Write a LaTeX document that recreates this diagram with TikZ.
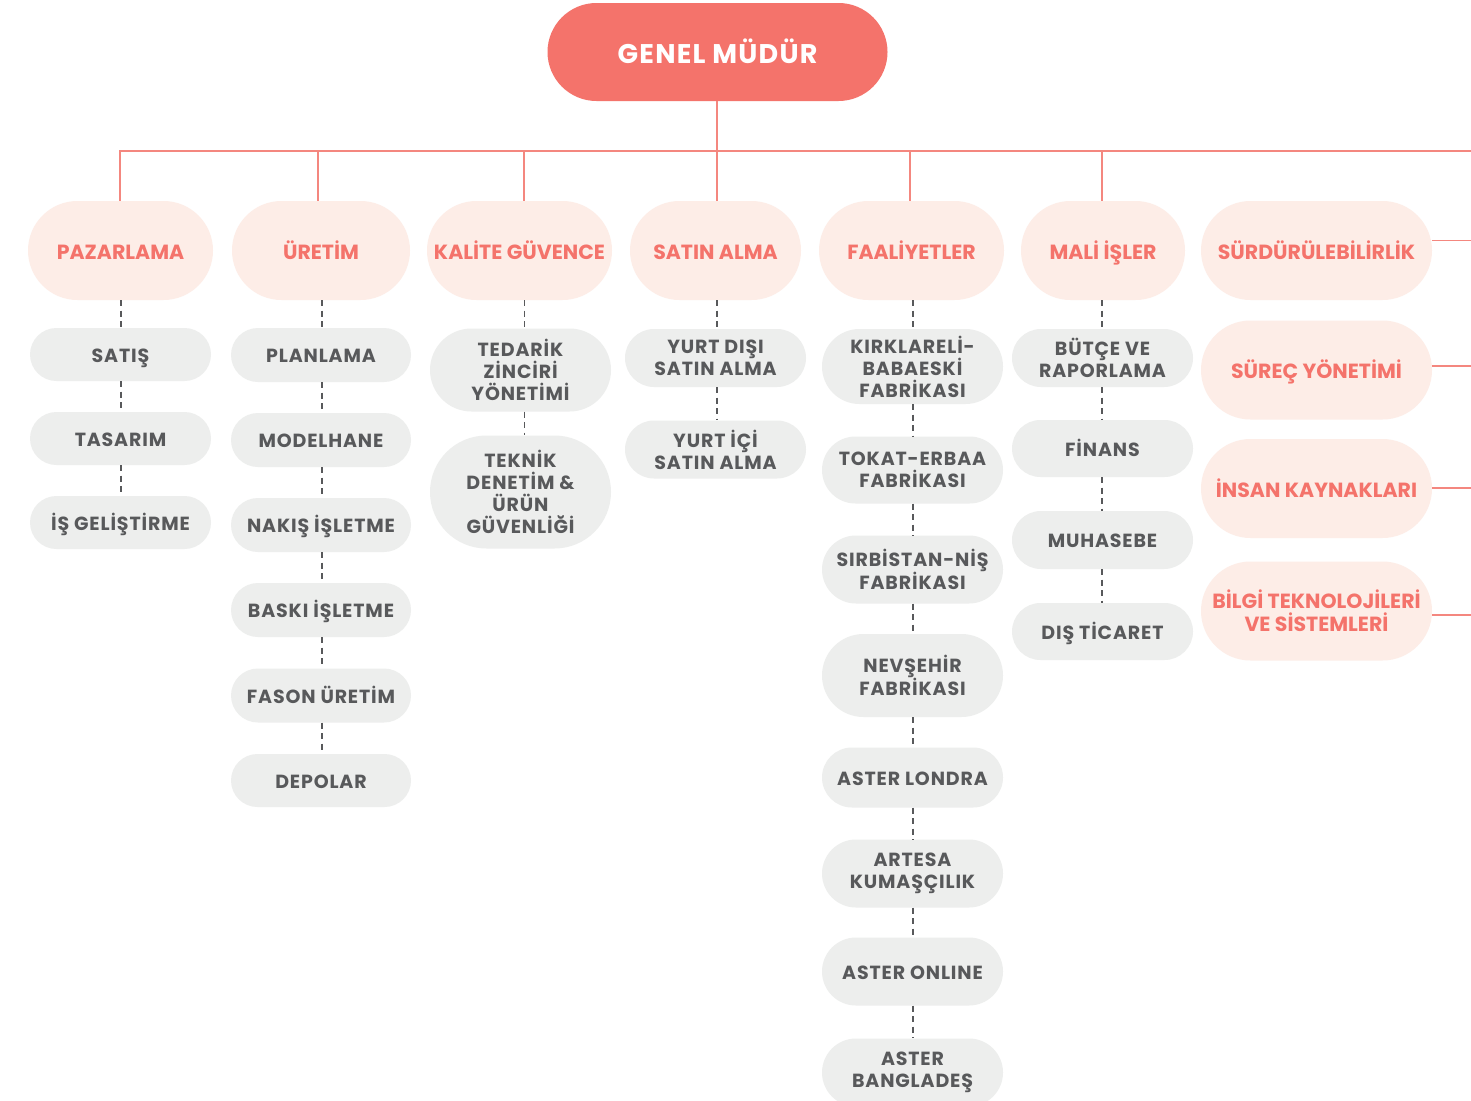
\documentclass[tikz,border=0pt]{standalone}
\usepackage{fontspec}
\setmainfont{Poppins}
\newfontfamily\grayfont{Poppins}[LetterSpace=4.5]
\newfontfamily\topfont{Poppins}[LetterSpace=4.5]
\definecolor{salmon}{HTML}{F4736B}
\definecolor{salmonline}{HTML}{F4877F}
\definecolor{pinkfill}{HTML}{FDEDE7}
\definecolor{grayfill}{HTML}{EDEEED}
\definecolor{graytext}{HTML}{58595B}
\definecolor{dashgray}{HTML}{58595B}
\begin{document}
\begin{tikzpicture}[x=1pt,y=-1pt,
 base/.style={rectangle, inner sep=0pt, align=center},
 topbox/.style={base, fill=salmon, text=white, font=\topfont\fontsize{27}{30}\selectfont\bfseries, minimum width=340, minimum height=98, rounded corners=49, text height=22pt, text depth=0pt},
 pbox/.style 2 args={base, fill=pinkfill, text=salmon, font=\fontsize{20.5}{23}\selectfont\bfseries, minimum width=#1, minimum height=#2, rounded corners=#2/2},
 gbox/.style 2 args={base, fill=grayfill, text=graytext, font=\grayfont\fontsize{19}{22}\selectfont\bfseries, minimum width=#1, minimum height=#2, rounded corners=#2/2},
 pone/.style={text height=17.5pt, text depth=0pt},
 gone/.style={text height=15.5pt, text depth=0pt},
 redline/.style={draw=salmonline, line width=1.8pt},
 dashline/.style={draw=dashgray, line width=1.6pt, dash pattern=on 6pt off 4.5pt},
]
\fill[white] (0,0) rectangle (1471,1100);
\useasboundingbox (0,0) rectangle (1471,1100);

% top
\node[topbox] (gm) at (717.5,52) {GENEL MÜDÜR};

% level 1
\node[pbox={185}{99}, pone] (paz) at (120.5,250.5) {PAZARLAMA};
\node[pbox={178}{99}, pone] (ure) at (321,250.5) {ÜRETİM};
\node[pbox={185}{99}, pone] (kal) at (519.5,250.5) {KALİTE GÜVENCE};
\node[pbox={171}{99}, pone] (sat) at (715.5,250.5) {SATIN ALMA};
\node[pbox={185}{99}, pone] (faa) at (911.5,250.5) {FAALİYETLER};
\node[pbox={164}{99}, pone] (mal) at (1103,250.5) {MALİ İŞLER};
\node[pbox={231}{99}, pone] (sur) at (1316.5,250.5) {SÜRDÜRÜLEBİLİRLİK};
\node[pbox={231}{99}, pone] (sy) at (1316.5,370) {SÜREÇ YÖNETİMİ};
\node[pbox={231}{99}, pone] (ik) at (1316.5,488.5) {İNSAN KAYNAKLARI};
\node[pbox={231}{99}] (bt) at (1316.5,611) {BİLGİ TEKNOLOJİLERİ\\VE SİSTEMLERİ};

% column 1
\node[gbox={181}{53}, gone] (satis) at (120.5,354.5) {SATIŞ};
\node[gbox={181}{53}, gone] (tasarim) at (120.5,438.5) {TASARIM};
\node[gbox={181}{53}, gone] (isgel) at (120.5,522.5) {İŞ GELİŞTİRME};

% column 2
\node[gbox={180}{54}, gone] (planlama) at (321,355) {PLANLAMA};
\node[gbox={180}{54}, gone] (modelhane) at (321,440) {MODELHANE};
\node[gbox={180}{54}, gone] (nakis) at (321,525) {NAKIŞ İŞLETME};
\node[gbox={180}{54}, gone] (baski) at (321,610) {BASKI İŞLETME};
\node[gbox={180}{54}, gone] (fason) at (321,695.5) {FASON ÜRETİM};
\node[gbox={180}{53}, gone] (depolar) at (321,780.5) {DEPOLAR};

% column 3
\node[gbox={181}{83}] (tedarik) at (520.5,370) {TEDARİK\\ZİNCİRİ\\YÖNETİMİ};
\node[gbox={181}{113}] (teknik) at (520.5,492) {TEKNİK\\DENETİM \&\\ÜRÜN\\GÜVENLİĞİ};

% column 4
\node[gbox={181}{58}] (ydisi) at (715.5,358) {YURT DIŞI\\SATIN ALMA};
\node[gbox={181}{58}] (yici) at (715.5,449.5) {YURT İÇİ\\SATIN ALMA};

% column 5
\node[gbox={181}{75}] (kirk) at (912.5,366.5) {KIRKLARELİ-\\BABAESKİ\\FABRİKASI};
\node[gbox={181}{67}] (tokat) at (912.5,470) {TOKAT-ERBAA\\FABRİKASI};
\node[gbox={181}{68}] (sirb) at (912.5,569.5) {SIRBİSTAN-NİŞ\\FABRİKASI};
\node[gbox={181}{83}] (nevs) at (912.5,675.5) {NEVŞEHİR\\FABRİKASI};
\node[gbox={181}{60}, gone] (londra) at (912.5,777.5) {ASTER LONDRA};
\node[gbox={181}{68}] (artesa) at (912.5,873.5) {ARTESA\\KUMAŞÇILIK};
\node[gbox={181}{68}, gone] (online) at (912.5,971.5) {ASTER ONLINE};
\node[gbox={181}{68}] (bangla) at (912.5,1072.5) {ASTER\\BANGLADEŞ};

% column 6
\node[gbox={181}{58}] (butce) at (1102.5,358) {BÜTÇE VE\\RAPORLAMA};
\node[gbox={181}{57}, gone] (finans) at (1102.5,448.5) {FİNANS};
\node[gbox={181}{58}, gone] (muhasebe) at (1102.5,540) {MUHASEBE};
\node[gbox={181}{57}, gone] (dis) at (1102.5,631.5) {DIŞ TİCARET};

% red connectors
\coordinate (busR) at (1471,151);
\coordinate (tpgm) at (717,151);
\coordinate (tppaz) at (120,151);
\coordinate (tpure) at (318,151);
\coordinate (tpkal) at (524,151);
\coordinate (tpsat) at (717,151);
\coordinate (tpfaa) at (910,151);
\coordinate (tpmal) at (1102,151);
\draw[redline] (tpgm |- gm.south) -- (tpgm);
\draw[redline] (tppaz |- paz.north) -- (tppaz) -- (busR);
\foreach \n in {ure,kal,sat,faa,mal}
  \draw[redline] (tp\n) -- (tp\n |- \n.north);

\coordinate (r1) at (1471,240.5);
\coordinate (r2) at (1471,366);
\coordinate (r3) at (1471,488);
\coordinate (r4) at (1471,615);
\draw[redline] (r1 -| sur.east) -- (r1);
\draw[redline] (r2 -| sy.east) -- (r2);
\draw[redline] (r3 -| ik.east) -- (r3);
\draw[redline] (r4 -| bt.east) -- (r4);

% dashed connectors
\coordinate (c1) at (121,0);
\coordinate (c2) at (322,0);
\coordinate (c3) at (524.5,0);
\coordinate (c4) at (717,0);
\coordinate (c5) at (913,0);
\coordinate (c6) at (1102,0);
\foreach \c/\a/\b in {c1/paz/satis, c1/satis/tasarim, c1/tasarim/isgel,
  c2/ure/planlama, c2/planlama/modelhane, c2/modelhane/nakis, c2/nakis/baski, c2/baski/fason, c2/fason/depolar,
  c3/kal/tedarik, c3/tedarik/teknik,
  c4/sat/ydisi, c4/ydisi/yici,
  c5/faa/kirk, c5/kirk/tokat, c5/tokat/sirb, c5/sirb/nevs, c5/nevs/londra, c5/londra/artesa, c5/artesa/online, c5/online/bangla,
  c6/mal/butce, c6/butce/finans, c6/finans/muhasebe, c6/muhasebe/dis}
  \draw[dashline] (\c |- \a.south) -- (\c |- \b.north);
\end{tikzpicture}
\end{document}
